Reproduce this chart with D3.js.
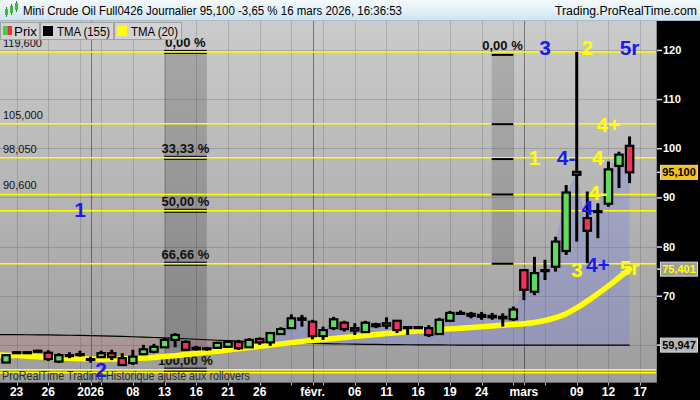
<!DOCTYPE html>
<html><head><meta charset="utf-8">
<script src="https://cdn.jsdelivr.net/npm/d3@7"></script>
<style>body{margin:0;background:#fff;}svg{display:block;font-family:"Liberation Sans",Arial,sans-serif;}</style>
</head><body><svg id="c" width="700" height="400"></svg>
<script>
// ---------------- DATA ----------------
const dates = ["2025-12-22","2025-12-23","2025-12-24","2025-12-25","2025-12-26","2025-12-29","2025-12-30","2025-12-31",
"2026-01-02","2026-01-05","2026-01-06","2026-01-07","2026-01-08","2026-01-09","2026-01-12","2026-01-13","2026-01-14","2026-01-15","2026-01-16",
"2026-01-19","2026-01-20","2026-01-21","2026-01-22","2026-01-23","2026-01-26","2026-01-27","2026-01-28","2026-01-29","2026-01-30",
"2026-02-02","2026-02-03","2026-02-04","2026-02-05","2026-02-06","2026-02-09","2026-02-10","2026-02-11","2026-02-12","2026-02-13",
"2026-02-16","2026-02-17","2026-02-18","2026-02-19","2026-02-20","2026-02-23","2026-02-24","2026-02-25","2026-02-26","2026-02-27",
"2026-03-02","2026-03-03","2026-03-04","2026-03-05","2026-03-06","2026-03-09","2026-03-10","2026-03-11","2026-03-12","2026-03-13","2026-03-16"];
const futureDates = ["2026-03-17","2026-03-18"];
const open  = [56.4,58.4,58.5,58.7,58.4,56.6,57.8,58.0,57.0,57.5, 58.3,57.3,56.3,58.1,58.6,59.5,61.0,60.6,59.4,59.1,
               59.4,59.6,60.6,59.5,61.2,60.5,62.2,63.4,65.4,64.7, 61.8,63.4,64.5,62.9,62.6,64.2,63.9,64.9,63.6,63.5,
               63.4,62.2,64.9,66.5,65.9,66.1,65.9,65.7,65.2,75.2, 70.8,75.1,75.9,79.1,95.2,85.8,87.0,88.7,96.4,100.5];
const high  = [58.1,58.6,58.6,59.0,58.9,58.3,58.5,58.8,57.6,58.8, 59.0,58.3,59.0,60.0,60.2,61.4,62.4,60.9,59.8,59.5,
               60.6,60.8,61.0,61.4,61.5,62.6,63.6,66.2,66.1,65.1, 63.7,65.7,64.9,64.4,64.9,64.5,65.6,65.0,63.8,63.8,
               64.0,65.5,66.9,67.0,66.7,66.7,66.5,66.4,67.8,75.4, 77.9,77.3,82.0,92.5,119.6,91.2,88.8,97.3,99.3,102.4];
const low   = [56.3,58.3,58.3,58.5,56.7,56.3,57.3,57.6,56.4,57.3, 56.9,55.7,55.9,57.9,58.3,59.4,59.5,58.8,58.9,58.8,
               59.2,59.4,59.0,59.4,60.0,59.8,62.0,63.2,63.7,61.1, 61.0,63.0,62.7,62.0,62.4,63.4,63.2,62.4,62.0,63.3,
               61.6,62.0,64.8,66.1,65.4,65.1,65.1,63.7,64.9,69.1, 70.1,73.2,74.9,78.3,81.0,76.6,81.7,88.1,91.9,92.9];
const close = [57.9,58.5,58.4,58.8,57.1,57.9,57.9,58.1,57.1,58.3, 57.5,55.9,57.6,59.1,59.6,61.0,62.0,59.0,59.1,59.3,
               60.4,60.6,59.3,61.0,60.5,62.4,63.2,65.4,65.1,61.8, 63.0,65.2,63.2,63.4,64.5,63.8,64.4,63.0,63.6,63.6,
               62.0,65.1,66.5,66.5,66.3,65.7,65.6,65.4,67.2,71.2, 74.6,75.2,81.0,91.0,94.6,83.2,87.2,95.7,98.7,95.1];
const tma155 = [62.10,62.08,62.06,62.04,62.01,61.98,61.95,61.91,61.87,61.82,
                61.77,61.71,61.65,61.58,61.50,61.42,61.33,61.24,61.14,61.04,
                60.94,60.84,60.75,60.66,60.58,60.51,60.45,60.39,60.34,60.29,
                60.25,60.21,60.17,60.14,60.11,60.08,60.06,60.04,60.02,60.00,
                59.99,59.98,59.97,59.96,59.96,59.95,59.95,59.95,59.95,59.95,
                59.95,59.95,59.95,59.95,59.95,59.95,59.95,59.95,59.95,59.947];
const tma20 = [57.95,57.82,57.70,57.57,57.45,57.35,57.25,57.17,57.10,57.08,
               57.10,57.14,57.20,57.30,57.45,57.62,57.80,58.02,58.25,58.47,
               58.70,58.95,59.20,59.45,59.70,59.95,60.20,60.45,60.70,60.90,
               61.10,61.30,61.50,61.70,61.90,62.10,62.30,62.48,62.65,62.82,
               63.00,63.12,63.25,63.40,63.55,63.70,63.85,64.00,64.15,64.30,
               64.55,64.95,65.55,66.35,67.50,68.90,70.40,72.00,73.70,75.401];
const tickDates = ["2025-12-23","2025-12-26","2026-01-02","2026-01-08","2026-01-13","2026-01-16","2026-01-21","2026-01-26",
                   "2026-02-02","2026-02-06","2026-02-11","2026-02-16","2026-02-19","2026-02-24","2026-03-02","2026-03-09","2026-03-12","2026-03-17"];
const tickTexts = ["23","26","2026","08","13","16","21","26","févr.","06","11","16","19","24","mars","09","12","17"];
const minorGridDates = ["2025-12-31","2026-01-05","2026-01-29","2026-02-03","2026-02-27","2026-03-04"];
const periodStartDates = ["2026-01-02","2026-02-02","2026-03-02"];
const yTicks = [60,70,80,90,100,110,120];
const levelValues = [119.6,105,98.05,90.6,87.275,76.5,54.95,54.3];
const levelLabelValues = [119.6,105,98.05,90.6];
const levelLabelTexts = ["119,600","105,000","98,050","90,600"];
const fibValues = [119.6,98.05,87.275,76.5,54.95];
const fibTexts = ["0,00 %","33,33 %","50,00 %","66,66 %","100,00 %"];
const fibLeftDates = ["2026-01-13","2026-01-16"];
const fibRightDates = ["2026-02-25","2026-02-27"];
const fibRightTicks = [119.0,104.9,97.8,90.6,76.5];
const waveTexts  = ["1","2","3","2","5r","4+","1","4-","4","4-","4","3","4+","5r"];
const waveColors = ["blue","blue","blue","yellow","blue","yellow","yellow","blue","yellow","yellow","blue","yellow","blue","yellow"];
const waveDates  = ["2025-12-31","2026-01-05","2026-03-04","2026-03-10","2026-03-16","2026-03-12","2026-03-03","2026-03-06","2026-03-11","2026-03-11","2026-03-10","2026-03-09","2026-03-11","2026-03-16"];
const waveValues = [86.0,53.5,119.0,119.0,119.0,103.3,96.6,96.6,96.6,89.4,86.4,73.8,74.8,74.2];
const lastPrice = 95.1, lastTma20 = 75.401, lastTma155 = 59.947;
const titleText = "Mini Crude Oil Full0426 Journalier 95,100 -3,65 % 16 mars 2026, 16:36:53";

// ---------------- LAYOUT ----------------
const svg = d3.select("#c");
const plotT = 21, plotB = 382.5, plotR = 656;
const allDates = dates.concat(futureDates);
const x = d3.scaleLinear().domain([-0.57, 61.5]).range([0, plotR]);
const xd = d => x(allDates.indexOf(d));
const xe = (d,i) => i===0 ? 0 : x(i);   // series drawn from the left edge
const y = d3.scaleLinear().domain([52.34, 125.89]).range([plotB, plotT]);
const fmt = v => d3.format(".3f")(v).replace(".", ",");

const defs = svg.append("defs");
const g1 = defs.append("linearGradient").attr("id","bg").attr("x1",0).attr("y1",0).attr("x2",0).attr("y2",1);
g1.append("stop").attr("offset","0%").attr("stop-color","#cbcbcb");
g1.append("stop").attr("offset","100%").attr("stop-color","#9d9d9d");
const g2 = defs.append("linearGradient").attr("id","hd").attr("x1",0).attr("y1",0).attr("x2",0).attr("y2",1);
g2.append("stop").attr("offset","0%").attr("stop-color","#f4fafd");
g2.append("stop").attr("offset","100%").attr("stop-color","#cfe4ef");

// plot background
svg.append("rect").attr("x",0).attr("y",plotT).attr("width",plotR).attr("height",plotB-plotT).attr("fill","url(#bg)");

// grid
const grid = svg.append("g");
grid.selectAll(".hg").data(yTicks).enter().append("line")
  .attr("x1",0).attr("x2",plotR).attr("y1",d=>Math.round(y(d))+0.5).attr("y2",d=>Math.round(y(d))+0.5)
  .attr("stroke","rgba(0,0,0,0.14)");
grid.selectAll(".vg").data(tickDates.concat(minorGridDates).filter(d=>!periodStartDates.includes(d))).enter().append("line")
  .attr("x1",d=>Math.round(xd(d))+0.5).attr("x2",d=>Math.round(xd(d))+0.5).attr("y1",plotT).attr("y2",plotB)
  .attr("stroke","rgba(0,0,0,0.14)");
grid.selectAll(".mg").data(periodStartDates).enter().append("line")
  .attr("x1",d=>Math.round(xd(d))+0.5).attr("x2",d=>Math.round(xd(d))+0.5).attr("y1",plotT).attr("y2",plotB)
  .attr("stroke","rgba(0,0,0,0.42)");

// fib boxes
const fibLx0 = xd(fibLeftDates[0]) - 0.5, fibLx1 = xd(fibLeftDates[1]) + 10.6;
svg.append("rect").attr("x",fibLx0).attr("y",y(fibValues[0])).attr("width",fibLx1-fibLx0)
  .attr("height",y(fibValues[4])-y(fibValues[0])).attr("fill","rgba(0,0,0,0.17)");
const fr0 = xd(fibRightDates[0]) - 0.5, fr1 = xd(fibRightDates[1]);
svg.append("rect").attr("x",fr0).attr("y",y(fibRightTicks[0])).attr("width",fr1-fr0)
  .attr("height",y(fibRightTicks[4])-y(fibRightTicks[0])).attr("fill","rgba(0,0,0,0.13)");

// fill between close and tma155
const clipA = defs.append("clipPath").attr("id","above");
clipA.append("path").attr("d", d3.area().x(xe).y0(plotT).y1(d=>y(d))(tma155));
const clipB = defs.append("clipPath").attr("id","below");
clipB.append("path").attr("d", d3.area().x(xe).y0(plotB).y1(d=>y(d))(tma155));
const band = d3.area().x(xe).y0((d,i)=>y(tma155[i])).y1(d=>y(d));
svg.append("path").attr("d",band(close)).attr("fill","rgba(120,126,228,0.32)").attr("clip-path","url(#above)");
svg.append("path").attr("d",band(close)).attr("fill","rgba(205,110,110,0.22)").attr("clip-path","url(#below)");

// level lines
svg.selectAll(".lv").data(levelValues).enter().append("line")
  .attr("x1",0).attr("x2",plotR).attr("y1",d=>y(d)).attr("y2",d=>y(d))
  .attr("stroke","#ffff00").attr("stroke-width",1.5);

// fib left ticks & labels
fibValues.forEach((v,k)=>{
  [-1.5,1.5].forEach(o=>svg.append("line").attr("x1",fibLx0).attr("x2",fibLx1).attr("y1",y(v)+o).attr("y2",y(v)+o)
     .attr("stroke","#000").attr("stroke-width",1));
  svg.append("text").attr("x",(fibLx0+fibLx1)/2).attr("y",y(v)-5).attr("text-anchor","middle")
     .attr("font-size",13).attr("font-weight","bold").attr("fill","#111").text(fibTexts[k]);
});
fibRightTicks.forEach(v=>svg.append("line").attr("x1",fr0).attr("x2",fr1).attr("y1",y(v)).attr("y2",y(v))
  .attr("stroke","#000").attr("stroke-width",2));
svg.append("text").attr("x",(fr0+fr1)/2).attr("y",y(fibValues[0])-2).attr("text-anchor","middle")
  .attr("font-size",13).attr("font-weight","bold").attr("fill","#111").text(fibTexts[0]);

// level labels
svg.selectAll(".ll").data(levelLabelValues).enter().append("text")
  .attr("x",3).attr("y",d=>y(d)-5).attr("font-size",11).attr("fill","#111").text((d,i)=>levelLabelTexts[i]);

// moving averages
svg.append("path").attr("d",d3.line().x(xe).y(d=>y(d))(tma155)).attr("fill","none").attr("stroke","#000").attr("stroke-width",1.2);
svg.append("path").attr("d",d3.line().x(xe).y(d=>y(d)).curve(d3.curveMonotoneX)(tma20))
  .attr("fill","none").attr("stroke","#ffff00").attr("stroke-width",5.5).attr("stroke-linecap","round");

// candles
const cg = svg.append("g");
dates.forEach((d,i)=>{
  const cx = x(i);
  cg.append("line").attr("x1",cx).attr("x2",cx).attr("y1",y(high[i])).attr("y2",y(low[i])).attr("stroke","#000").attr("stroke-width",3);
  const top = y(Math.max(open[i],close[i])), bot = y(Math.min(open[i],close[i]));
  cg.append("rect").attr("x",cx-3.7).attr("y",top).attr("width",7.4).attr("height",Math.max(bot-top,1))
    .attr("fill",close[i]>=open[i]?"#5fdc5f":"#f5305f").attr("stroke","#000").attr("stroke-width",2.2);
});

// wave labels
svg.selectAll(".wv").data(waveTexts).enter().append("text")
  .attr("x",(d,i)=>xd(waveDates[i])).attr("y",(d,i)=>y(waveValues[i])).attr("text-anchor","middle")
  .attr("font-size",21).attr("font-weight","bold")
  .attr("fill",(d,i)=>waveColors[i]==="blue"?"#1a1af2":"#ffff00").text(d=>d);

// bottom note
svg.append("text").attr("x",2).attr("y",380).attr("font-size",12).attr("fill","#2a2a2a")
  .attr("textLength",248).attr("lengthAdjust","spacingAndGlyphs").text("ProRealTime Trading Historique ajusté aux rollovers");

// header
svg.append("rect").attr("x",0).attr("y",0).attr("width",700).attr("height",plotT).attr("fill","url(#hd)");
svg.append("line").attr("x1",0).attr("x2",700).attr("y1",20.5).attr("y2",20.5).attr("stroke","#a9bcc6");
[[5,9,15,"#3dbb3d"],[10,6,13,"#3dbb3d"],[15,3,10,"#3dbb3d"]].forEach(c=>{
  svg.append("line").attr("x1",c[0]+1.5).attr("x2",c[0]+1.5).attr("y1",c[1]-2).attr("y2",c[2]+2).attr("stroke","#2a8a2a");
  svg.append("rect").attr("x",c[0]).attr("y",c[1]).attr("width",3).attr("height",c[2]-c[1]).attr("fill",c[3]);
});
svg.append("text").attr("x",23).attr("y",15).attr("font-size",12).attr("fill","#000")
  .attr("textLength",379).attr("lengthAdjust","spacingAndGlyphs").text(titleText);
svg.append("text").attr("x",697).attr("y",15).attr("font-size",12).attr("fill","#000").attr("text-anchor","end")
  .attr("textLength",142).attr("lengthAdjust","spacingAndGlyphs").text("Trading.ProRealTime.com");

// legend
const legend = [{x:0,w:39,t:"Prix",tw:23},{x:40,w:73,t:"TMA (155)",tw:53},{x:114,w:67,t:"TMA (20)",tw:47}];
legend.forEach((l,k)=>{
  svg.append("rect").attr("x",l.x+0.5).attr("y",22.5).attr("width",l.w).attr("height",17).attr("fill","#d3d3d3").attr("stroke","#a2a2a2");
  if(k===0){
    svg.append("rect").attr("x",l.x+3).attr("y",26).attr("width",4.5).attr("height",9).attr("fill","#3fd13f");
    svg.append("rect").attr("x",l.x+7.5).attr("y",26).attr("width",4.5).attr("height",9).attr("fill","#f0304a");
  } else {
    svg.append("rect").attr("x",l.x+3).attr("y",26).attr("width",10).attr("height",10).attr("fill",k===1?"#000":"#ffff00");
  }
  svg.append("text").attr("x",l.x+(k===0?14:17)).attr("y",35.5).attr("font-size",12).attr("fill","#000")
    .attr("textLength",l.tw).attr("lengthAdjust","spacingAndGlyphs").text(l.t);
});

// right axis panel
svg.append("rect").attr("x",plotR).attr("y",plotT).attr("width",700-plotR).attr("height",400-plotT).attr("fill","#000");
svg.append("line").attr("x1",plotR+0.5).attr("x2",plotR+0.5).attr("y1",plotT).attr("y2",plotB).attr("stroke","#888");
const yAxis = d3.axisRight(y).tickValues(yTicks.filter(v=>v>=70)).tickSize(5).tickFormat(d3.format("d"));
const ya = svg.append("g").attr("transform",`translate(${plotR+1},0)`).call(yAxis);
ya.select(".domain").remove();
ya.selectAll("line").attr("stroke","#ddd").attr("stroke-width",1.5);
ya.selectAll("text").attr("fill","#fff").attr("font-size",11).attr("font-weight","bold").attr("x",6)
  .attr("font-family","'Liberation Sans',Arial,sans-serif");

// value boxes
[[lastPrice,"#f2c21a","#000"],[lastTma20,"#9e9e9e","#ffff00"],[lastTma155,"#b5b5b5","#000"]].forEach(b=>{
  const cy = y(b[0]);
  svg.append("line").attr("x1",plotR+1).attr("x2",plotR+5).attr("y1",cy).attr("y2",cy).attr("stroke","#ddd").attr("stroke-width",1.5);
  svg.append("rect").attr("x",660.5).attr("y",cy-7).attr("width",37).attr("height",14).attr("fill",b[1]).attr("stroke","#d8d8d8");
  svg.append("text").attr("x",679).attr("y",cy+4).attr("text-anchor","middle").attr("font-size",11).attr("font-weight","bold")
    .attr("fill",b[2]).text(fmt(b[0]));
});

// bottom axis band
svg.append("rect").attr("x",0).attr("y",plotB).attr("width",plotR).attr("height",400-plotB).attr("fill","#000");
const xa = svg.append("g");
xa.selectAll(".tk").data(tickDates.concat(minorGridDates)).enter().append("line")
  .attr("x1",d=>Math.round(xd(d))+0.5).attr("x2",d=>Math.round(xd(d))+0.5).attr("y1",plotB).attr("y2",plotB+3).attr("stroke","#bbb");
xa.selectAll(".tl").data(tickDates).enter().append("text")
  .attr("x",d=>xd(d)).attr("y",396).attr("text-anchor","middle").attr("font-size",12).attr("font-weight","bold")
  .attr("fill","#fff").text((d,i)=>tickTexts[i]);
</script></body></html>
